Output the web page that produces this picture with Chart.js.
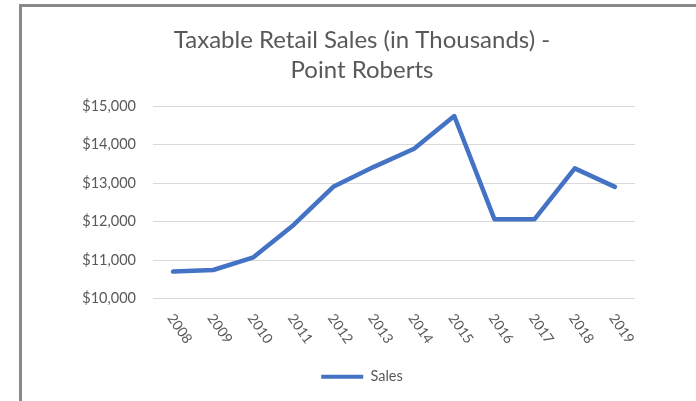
<!DOCTYPE html>
<html>
<head>
<meta charset="utf-8">
<script src="https://cdn.jsdelivr.net/npm/chart.js@4"></script>
<style>
  html, body { margin: 0; padding: 0; background: #fff; overflow: hidden; }
  #wrap { position: relative; width: 696px; height: 401px; }
  #frame {
    position: absolute; left: 19px; top: 4px; width: 720px; height: 440px;
    border: 3px solid #8a8a8a; pointer-events: none;
  }
</style>
</head>
<body>
<div id="wrap">
  <canvas id="myChart" width="696" height="401"></canvas>
  <div id="frame"></div>
</div>
<script>
// Дані графіка
const years = ["2008", "2009", "2010", "2011", "2012", "2013", "2014", "2015", "2016", "2017", "2018", "2019"];
const sales = [10700, 10740, 11070, 11910, 12910, 13420, 13890, 14740, 12060, 12060, 13380, 12900];
const yTicks = [10000, 11000, 12000, 13000, 14000, 15000];

const textColor = "#595959";
const lineColor = "#4472C4";
const fontName = "Lato";

// Підписи років, повернуті за годинниковою стрілкою
const rotatedYears = {
  id: "rotatedYears",
  afterDraw(chart) {
    const ctx = chart.ctx;
    const xScale = chart.scales.x;
    ctx.save();
    ctx.fillStyle = textColor;
    ctx.font = "14px " + fontName;
    ctx.textAlign = "left";
    ctx.textBaseline = "top";
    years.forEach((year, i) => {
      const x = xScale.getPixelForValue(i);
      ctx.save();
      ctx.translate(x + 3, chart.chartArea.bottom + 13);
      ctx.rotate((55 * Math.PI) / 180);
      ctx.fillText(year, 0, 0);
      ctx.restore();
    });
    ctx.restore();
  },
};

const ctx = document.getElementById("myChart").getContext("2d");

let myChart = new Chart(ctx, {
  type: "line",
  data: {
    labels: years,
    datasets: [
      {
        label: "Sales",
        data: sales,
        borderColor: lineColor,
        backgroundColor: lineColor,
        borderWidth: 4.5,
        pointRadius: 0,
        tension: 0,
        borderCapStyle: "round",
        borderJoinStyle: "round",
        yAxisID: "y",
      },
    ],
  },
  options: {
    responsive: false,
    animation: false,
    layout: {
      padding: { left: 28, right: 0, top: 6, bottom: 7 },
    },
    plugins: {
      title: {
        display: true,
        text: ["Taxable Retail Sales (in Thousands) -", "Point Roberts"],
        color: textColor,
        font: { family: fontName, size: 24, weight: "normal", lineHeight: 1.25 },
        padding: { top: 19, bottom: 21 },
      },
      legend: {
        position: "bottom",
        labels: {
          color: textColor,
          font: { family: fontName, size: 14.5 },
          boxWidth: 42,
          boxHeight: 4,
          padding: 63,
          generateLabels: (chart) =>
            Chart.defaults.plugins.legend.labels.generateLabels(chart).map((l) => ({ ...l, lineWidth: 0 })),
        },
      },
      tooltip: { enabled: false },
    },
    scales: {
      x: {
        offset: true,
        grid: { display: false },
        border: { display: false },
        ticks: { display: false },
      },
      y: {
        min: 10000,
        max: 15000,
        afterBuildTicks: (scale) => {
          scale.ticks = yTicks.map((v) => ({ value: v }));
        },
        afterFit: (scale) => {
          scale.width = 125;
        },
        grid: { color: "#d9d9d9", lineWidth: 1, drawTicks: false },
        border: { display: false },
        ticks: {
          color: textColor,
          font: { family: fontName, size: 14.5 },
          padding: 17,
          callback: (v) => "$" + v.toLocaleString("en-US"),
        },
      },
      yRight: {
        position: "right",
        min: 0,
        max: 1,
        afterFit: (scale) => {
          scale.width = 61;
        },
        grid: { display: false },
        border: { display: false },
        ticks: { display: false },
      },
    },
  },
  plugins: [rotatedYears],
});
</script>
</body>
</html>
